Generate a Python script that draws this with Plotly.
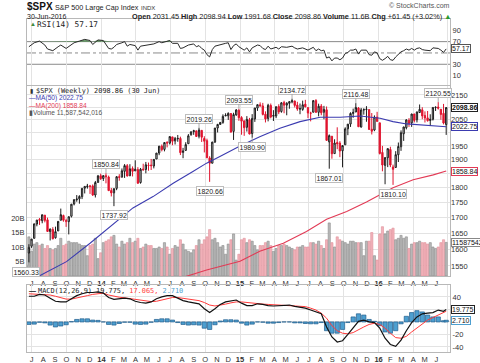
import math
import pandas as pd
import plotly.graph_objects as go

# ---------------- data ----------------
first_week = "2013-06-24"
n_weeks = 158
dates = pd.date_range(first_week, periods=n_weeks, freq="7D")
prior_close = 1592.43

open_ = [
    1588.8, 1609.8, 1634.2, 1679.6, 1694.4, 1690.3, 1708.0, 1693.0, 1655.3, 1662.0,
    1635.9, 1657.4, 1691.7, 1707.1, 1687.3, 1687.2, 1704.8, 1745.2, 1759.4, 1762.2,
    1769.7, 1798.8, 1803.5, 1806.6, 1806.6, 1775.4, 1818.6, 1842.0, 1832.3, 1842.3,
    1837.4, 1791.0, 1782.7, 1798.0, 1838.8, 1836.8, 1857.7, 1877.9, 1841.8, 1867.7,
    1859.2, 1863.9, 1818.2, 1865.8, 1864.2, 1879.5, 1880.0, 1876.7, 1902.0, 1923.9,
    1949.4, 1937.2, 1962.9, 1960.8, 1984.2, 1969.0, 1976.9, 1978.3, 1926.0, 1933.4,
    1958.4, 1992.6, 2004.1, 2007.2, 1986.5, 2009.1, 1978.0, 1970.0, 1905.7, 1886.8,
    1965.0, 2018.2, 2032.0, 2039.7, 2065.1, 2065.8, 2074.8, 2005.0, 2069.3, 2087.6,
    2058.9, 2046.1, 2020.8, 2050.4, 1996.7, 2053.5, 2096.5, 2109.8, 2105.2, 2072.3,
    2055.4, 2107.0, 2064.1, 2064.9, 2102.9, 2083.0, 2119.3, 2108.4, 2115.6, 2121.8,
    2125.3, 2108.6, 2092.3, 2091.3, 2112.5, 2098.6, 2075.6, 2080.0, 2126.8, 2079.6,
    2104.5, 2080.0, 2089.7, 1965.2, 1986.7, 1921.8, 1963.1, 1960.8, 1932.2, 1954.3,
    2015.0, 2033.5, 2075.1, 2080.8, 2096.6, 2022.1, 2089.4, 2090.9, 2090.4, 2013.4,
    2010.3, 2060.6, 2038.2, 1926.1, 1878.9, 1906.3, 1936.9, 1873.3, 1871.4, 1917.6,
    1947.1, 1996.1, 2019.3, 2047.9, 2037.9, 2073.2, 2050.2, 2078.8, 2089.4, 2067.2,
    2057.6, 2047.2, 2052.2, 2100.0, 2100.8, 2091.8, 2075.6, 2031.45,
]
high = [
    1615.9, 1632.1, 1680.2, 1693.1, 1698.8, 1709.7, 1709.2, 1700.2, 1664.9, 1669.5,
    1671.2, 1689.0, 1729.9, 1710.0, 1696.6, 1704.0, 1745.3, 1759.8, 1775.2, 1774.5,
    1798.2, 1804.8, 1813.6, 1810.0, 1811.5, 1823.8, 1844.9, 1849.4, 1843.2, 1850.84,
    1842.4, 1799.3, 1798.0, 1841.0, 1847.5, 1867.9, 1883.6, 1883.8, 1883.1, 1875.2,
    1897.3, 1872.5, 1869.6, 1884.9, 1891.3, 1889.1, 1902.2, 1901.3, 1924.0, 1949.4,
    1955.6, 1963.9, 1968.2, 1985.6, 1984.2, 1983.9, 1991.4, 1985.0, 1942.9, 1964.0,
    1994.8, 2005.0, 2011.2, 2007.2, 2019.26, 2009.1, 1986.7, 1977.4, 1912.1, 1965.3,
    2018.2, 2034.3, 2041.3, 2071.5, 2075.8, 2079.5, 2075.8, 2077.9, 2092.7, 2093.55,
    2064.4, 2046.1, 2064.6, 2057.6, 2072.4, 2097.0, 2110.6, 2119.6, 2117.5, 2083.5,
    2113.9, 2114.9, 2088.2, 2102.6, 2111.9, 2120.9, 2126.0, 2120.3, 2123.9, 2134.72,
    2126.2, 2121.9, 2115.0, 2126.6, 2129.9, 2098.6, 2081.8, 2129.0, 2132.8, 2114.2,
    2112.7, 2105.4, 2103.0, 1993.5, 1986.7, 1975.0, 2020.9, 1968.0, 1951.4, 2020.9,
    2033.5, 2079.7, 2094.3, 2116.48, 2100.7, 2097.1, 2095.6, 2104.3, 2090.4, 2076.7,
    2067.4, 2081.6, 2038.2, 1950.3, 1908.9, 1940.2, 1947.2, 1881.6, 1930.7, 1962.9,
    2009.1, 2022.4, 2052.4, 2056.6, 2074.0, 2073.2, 2083.2, 2111.1, 2099.9, 2083.4,
    2084.9, 2071.9, 2099.3, 2103.5, 2120.55, 2091.8, 2113.3, 2098.94,
]
low = [
    1560.33, 1604.6, 1634.2, 1672.2, 1676.7, 1681.9, 1684.9, 1654.2, 1627.5, 1630.9,
    1633.4, 1657.4, 1691.7, 1687.0, 1670.4, 1646.5, 1700.7, 1740.5, 1752.7, 1746.2,
    1761.6, 1780.7, 1797.2, 1779.1, 1772.3, 1767.0, 1818.6, 1827.7, 1823.7, 1815.5,
    1790.3, 1770.5, 1737.92, 1791.8, 1824.6, 1836.8, 1834.4, 1839.6, 1841.8, 1839.6,
    1859.2, 1814.4, 1814.4, 1859.7, 1850.6, 1859.8, 1862.4, 1868.1, 1902.0, 1916.0,
    1930.0, 1930.0, 1944.7, 1955.6, 1952.9, 1955.5, 1965.8, 1916.4, 1904.8, 1933.4,
    1958.4, 1988.6, 1992.0, 1985.2, 1978.5, 1965.0, 1926.0, 1906.1, 1820.66, 1886.3,
    1961.0, 2001.0, 2030.2, 2034.5, 2064.8, 2049.6, 2002.3, 1972.6, 2066.0, 2046.0,
    1992.4, 1988.1, 2004.5, 1994.0, 1980.90, 2041.9, 2085.4, 2103.8, 2067.3, 2039.7,
    2044.0, 2055.7, 2045.5, 2056.5, 2072.4, 2078.0, 2075.9, 2067.9, 2093.9, 2115.8,
    2099.2, 2085.7, 2072.1, 2085.7, 2099.6, 2056.6, 2044.0, 2080.0, 2077.7, 2063.5,
    2067.9, 2052.1, 1970.9, 1867.01, 1903.1, 1921.8, 1938.0, 1908.8, 1871.9, 1954.3,
    1990.7, 2022.3, 2058.0, 2080.8, 2022.8, 2019.4, 2070.3, 2042.4, 2012.4, 1993.3,
    2005.9, 2043.6, 1918.5, 1857.8, 1812.3, 1872.7, 1872.7, 1810.10, 1871.4, 1891.0,
    1931.8, 1969.0, 2012.8, 2022.5, 2022.5, 2039.7, 2039.7, 2078.5, 2052.3, 2039.5,
    2043.1, 2025.9, 2047.3, 2085.1, 2090.6, 2050.4, 2032.1, 1991.68,
]
close = [
    1606.3, 1631.9, 1680.2, 1692.1, 1691.7, 1709.7, 1691.4, 1655.8, 1663.5, 1633.0,
    1655.2, 1688.0, 1709.9, 1691.8, 1690.5, 1703.2, 1744.5, 1759.8, 1761.6, 1770.6,
    1798.2, 1804.8, 1805.8, 1805.1, 1775.3, 1818.3, 1841.4, 1831.4, 1842.4, 1838.7,
    1790.3, 1782.6, 1797.0, 1838.6, 1836.3, 1859.5, 1878.0, 1841.1, 1866.5, 1857.6,
    1865.1, 1815.7, 1864.9, 1863.4, 1881.1, 1878.5, 1877.9, 1900.5, 1923.6, 1949.4,
    1936.2, 1962.9, 1961.0, 1985.4, 1967.6, 1978.2, 1978.3, 1925.2, 1931.6, 1955.1,
    1988.4, 2003.4, 2007.7, 1985.5, 2010.4, 1982.9, 1967.9, 1906.1, 1886.8, 1964.6,
    2018.1, 2031.9, 2039.8, 2063.5, 2067.6, 2075.4, 2002.3, 2070.7, 2088.8, 2058.2,
    2044.8, 2019.4, 2051.8, 1995.0, 2055.5, 2097.0, 2110.3, 2104.5, 2071.3, 2053.4,
    2108.1, 2061.0, 2067.0, 2102.1, 2081.2, 2117.7, 2108.3, 2116.1, 2122.7, 2126.1,
    2107.4, 2092.8, 2094.1, 2110.0, 2101.5, 2076.8, 2076.6, 2126.6, 2079.7, 2103.8,
    2077.6, 2091.5, 1970.9, 1988.9, 1921.2, 1961.1, 1958.0, 1931.3, 1951.4, 2014.9,
    2033.1, 2075.2, 2079.4, 2099.2, 2023.0, 2089.2, 2090.1, 2091.7, 2012.4, 2005.6,
    2061.0, 2043.9, 1922.0, 1880.3, 1906.9, 1940.2, 1880.1, 1864.8, 1917.8, 1948.1,
    2000.0, 2022.2, 2049.6, 2035.9, 2072.8, 2047.6, 2080.7, 2091.6, 2065.3, 2057.1,
    2046.6, 2052.3, 2099.1, 2099.1, 2096.1, 2071.2, 2037.41, 2098.86,
]
volume_b = [
    13.5, 8.5, 11.0, 11.5, 10.5, 11.0, 9.5, 10.5, 9.5, 9.0,
    9.5, 10.5, 13.0, 10.5, 11.0, 12.0, 11.5, 11.5, 11.5, 11.0,
    10.5, 10.5, 7.0, 10.5, 11.0, 13.0, 6.0, 8.0, 11.5, 12.0,
    12.5, 13.5, 14.0, 11.0, 10.0, 12.0, 11.0, 11.5, 13.0, 11.5,
    12.0, 13.0, 9.5, 10.0, 11.0, 10.5, 10.5, 9.5, 9.5, 10.0,
    9.5, 11.5, 10.0, 7.5, 9.5, 10.5, 10.0, 12.5, 11.0, 9.0,
    8.5, 8.0, 9.0, 10.5, 12.5, 11.0, 12.5, 13.5, 16.0, 12.5,
    13.0, 11.5, 10.0, 10.5, 7.5, 11.0, 12.5, 14.5, 5.5, 7.5,
    12.5, 13.0, 11.5, 12.5, 12.0, 10.5, 9.0, 10.5, 10.5, 11.5,
    12.0, 10.5, 8.5, 9.5, 10.5, 10.5, 11.0, 10.5, 10.0, 9.5,
    9.0, 10.0, 10.0, 10.5, 10.0, 10.0, 11.5, 11.5, 11.0, 12.0,
    10.5, 9.5, 12.5, 18.3, 11.5, 10.0, 13.5, 12.5, 12.0, 11.5,
    11.0, 12.0, 12.0, 11.5, 11.5, 11.5, 7.0, 12.0, 12.0, 15.0,
    7.0, 5.5, 14.5, 17.0, 14.5, 15.5, 16.0, 16.5, 12.5, 13.0,
    14.0, 13.0, 13.5, 9.5, 11.0, 11.5, 11.5, 12.0, 11.5, 11.5,
    11.0, 11.5, 10.0, 9.5, 10.0, 11.5, 12.5, 11.587542016,
]

ma50_dates = ["2013-06-24", "2013-10-01", "2013-12-02", "2014-01-20", "2014-03-25",
              "2014-05-17", "2014-07-09", "2014-08-30", "2014-10-05", "2014-11-09",
              "2015-01-01", "2015-02-22", "2015-04-16", "2015-06-08", "2015-07-31",
              "2015-09-22", "2015-11-13", "2016-01-05", "2016-02-08", "2016-03-15",
              "2016-05-07", "2016-06-27"]
ma50_vals = [1505, 1563, 1619, 1668, 1732, 1770, 1816, 1857, 1887, 1911,
             1950, 1985, 2017, 2043, 2060, 2060, 2065, 2056, 2043, 2034,
             2028, 2022.75]
ma200_dates = ["2014-07-21", "2014-10-05", "2015-01-01", "2015-02-22", "2015-04-25",
               "2015-06-25", "2015-08-17", "2015-10-09", "2015-11-30", "2016-02-08",
               "2016-04-01", "2016-05-24", "2016-06-27"]
ma200_vals = [1512, 1538, 1564, 1594, 1619, 1656, 1695, 1720, 1752, 1800,
              1828, 1845, 1858.84]

rsi_idx = [0, 2, 4, 6, 7, 9, 11, 12, 14, 15,
           17, 19, 21, 23, 24, 26, 28, 30, 31, 32,
           33, 35, 36, 37, 38, 40, 41, 42, 44, 47,
           49, 50, 53, 54, 56, 57, 58, 60, 62, 63,
           64, 65, 66, 67, 68, 69, 70, 72, 74, 75,
           76, 77, 78, 79, 80, 81, 82, 83, 84, 86,
           87, 88, 89, 90, 91, 93, 94, 95, 97, 99,
           100, 101, 103, 105, 107, 108, 109, 110, 111, 112,
           113, 114, 115, 116, 117, 118, 119, 120, 121, 122,
           123, 124, 125, 126, 127, 128, 129, 130, 131, 132,
           133, 134, 135, 136, 137, 138, 139, 140, 141, 142,
           143, 144, 145, 146, 147, 148, 149, 150, 151, 152,
           153, 154, 155, 156, 157]
rsi_vals = [61, 68, 71, 64, 57, 54, 61, 64, 58, 61,
            68, 71, 74, 72, 65, 73, 72, 58, 57, 60,
            65, 68, 70, 62, 65, 63, 55, 62, 64, 66,
            70, 68, 72, 67, 67, 58, 59, 64, 66, 61,
            63, 58, 55, 47, 43, 56, 62, 65, 67, 68,
            56, 63, 66, 61, 58, 55, 59, 52, 59, 64,
            63, 58, 56, 62, 57, 60, 57, 61, 60, 62,
            59, 57, 59, 55, 60, 54, 57, 54, 55, 41,
            43, 36, 41, 41, 38, 41, 49, 51, 55, 55,
            57, 48, 55, 55, 55, 47, 46, 52, 50, 40,
            37, 40, 44, 38, 37, 43, 47, 52, 54, 57,
            55, 58, 55, 58, 59, 56, 55, 54, 54, 59,
            59, 58, 55, 51, 57.17]
rsi_levels = [70, 50, 30]

macd_idx = list(range(0, 157, 2)) + [157]
macd_vals = [41, 41, 44, 43, 38, 33, 32, 32, 37, 42,
             45, 47, 47, 48, 46, 39, 36, 37, 38, 37,
             33, 31, 30, 32, 37, 40, 42, 42, 38, 34,
             32, 31, 29, 21, 15, 21, 28, 32, 34, 35,
             30, 26, 26, 29, 28, 26, 25.5, 26, 27, 27,
             25, 24, 22, 19, 16, 13, -8, -24, -32, -30,
             -20, -9, 1, 3, 0, -1, -10, -26, -36, -39,
             -29, -14, -1, 8, 13, 14, 15, 19, 17, 19.775]
signal_vals = [45, 44.5, 44.5, 44.5, 43, 41, 38.5, 36.5, 36.5, 38,
               40, 42, 44, 45.5, 46, 43, 41, 39.5, 38.5, 37.5,
               36.5, 35, 33.5, 32.5, 33, 35, 37, 39, 39, 38,
               37, 35.5, 34, 31, 27, 25.5, 26.5, 28.5, 30.5, 32,
               32, 31, 29.5, 29, 28.5, 28, 27.5, 27, 27, 27,
               26.5, 25.5, 24.5, 22, 19, 14, 6, -6, -14, -18,
               -19, -17, -12, -8, -4, -2, -4, -10, -18, -25,
               -26, -23, -16, -10, -3, 3, 7, 11, 15, 17.065]

label_high_idx = [29, 64, 79, 99, 123, 154]
label_low_idx = [0, 32, 68, 84, 113, 137]

# ---------------- styling ----------------
W, H = 480, 363
FONT = "Liberation Sans"
MONO = "DejaVu Sans Mono"
GRID = "#e3e3e3"
BORDER = "#b8b8b8"
RED = "#e0142e"
BLK = "#1c1c1c"
BLUE_MA = "#3b3bb0"
RED_MA = "#e23a55"


def ydom(top_px, bot_px):
    return [1 - bot_px / H, 1 - top_px / H]


def py(px):
    return 1 - px / H


fig = go.Figure()

# ---------------- RSI panel ----------------
rsi_x = dates[rsi_idx]
fig.add_trace(go.Scatter(x=rsi_x, y=[70] * len(rsi_idx), mode="lines", line=dict(width=0),
                         xaxis="x", yaxis="y", hoverinfo="skip", showlegend=False))
fig.add_trace(go.Scatter(x=rsi_x, y=[max(v, 70) for v in rsi_vals], mode="lines",
                         line=dict(width=0), fill="tonexty", fillcolor="rgba(80,140,80,0.85)",
                         xaxis="x", yaxis="y", hoverinfo="skip", showlegend=False))
fig.add_trace(go.Scatter(x=rsi_x, y=rsi_vals, mode="lines", line=dict(color="#2a2a2a", width=1),
                         xaxis="x", yaxis="y", hoverinfo="skip", showlegend=False))

# ---------------- price panel ----------------
prev = [prior_close] + close[:-1]
up_i = [i for i in range(n_weeks) if close[i] >= prev[i]]
dn_i = [i for i in range(n_weeks) if close[i] < prev[i]]

vol_fill = ["#b9b9b9" if close[i] >= prev[i] else "#f2b2ba" for i in range(n_weeks)]
vol_line = ["#8c8c8c" if close[i] >= prev[i] else "#e0909b" for i in range(n_weeks)]
fig.add_trace(go.Bar(x=dates, y=volume_b, marker=dict(color=vol_fill, line=dict(color=vol_line, width=0.6)),
                     xaxis="x2", yaxis="y2", hoverinfo="skip", showlegend=False))


def pick(lst, idx):
    return [lst[i] for i in idx]


for idx, col in ((up_i, BLK), (dn_i, RED)):
    fig.add_trace(go.Candlestick(
        x=dates[idx], open=pick(open_, idx), high=pick(high, idx), low=pick(low, idx), close=pick(close, idx),
        increasing=dict(line=dict(color=col, width=1), fillcolor="#e2e2e2"),
        decreasing=dict(line=dict(color=col, width=1), fillcolor=col),
        whiskerwidth=0, xaxis="x2", yaxis="y3", hoverinfo="skip", showlegend=False))

fig.add_trace(go.Scatter(x=ma50_dates, y=ma50_vals, mode="lines", line=dict(color=BLUE_MA, width=1.1),
                         xaxis="x2", yaxis="y3", hoverinfo="skip", showlegend=False))
fig.add_trace(go.Scatter(x=ma200_dates, y=ma200_vals, mode="lines", line=dict(color=RED_MA, width=1.1),
                         xaxis="x2", yaxis="y3", hoverinfo="skip", showlegend=False))

# ---------------- MACD panel ----------------
macd_x = dates[macd_idx]
hist = [m - s for m, s in zip(macd_vals, signal_vals)]
fig.add_trace(go.Bar(x=macd_x, y=hist, width=14 * 86400000 * 0.8,
                     marker=dict(color="#4d9fd0", line=dict(color="#1f5c8c", width=0.7)),
                     xaxis="x3", yaxis="y4", hoverinfo="skip", showlegend=False))
fig.add_trace(go.Scatter(x=macd_x, y=signal_vals, mode="lines", line=dict(color="#ff3b3b", width=1),
                         xaxis="x3", yaxis="y4", hoverinfo="skip", showlegend=False))
fig.add_trace(go.Scatter(x=macd_x, y=macd_vals, mode="lines", line=dict(color="#111111", width=1.2),
                         xaxis="x3", yaxis="y4", hoverinfo="skip", showlegend=False))

# ---------------- axes ----------------
month_starts = pd.date_range("2013-07-01", "2016-06-01", freq="MS")
month_text = [f"<b>{d.year % 100}</b>" if d.month == 1 else "JFMAMJJASOND"[d.month - 1] for d in month_starts]
xrange_ = ["2013-06-19", "2016-07-07"]
xdom = [27 / W, 450 / W]


def xax(anchor, labels):
    return dict(domain=xdom, range=xrange_, type="date", anchor=anchor,
                showgrid=False, zeroline=False,
                minor=dict(showgrid=True, dtick="M3", tick0="2013-07-01", gridcolor=GRID, gridwidth=1, ticks=""),
                showline=True, mirror=True, linecolor=BORDER, linewidth=1,
                rangeslider=dict(visible=False), tickmode="array", tickvals=month_starts,
                ticktext=month_text, ticks="", showticklabels=labels,
                tickfont=dict(size=7.5, color="#333", family=FONT), fixedrange=True)


price_ticks = list(range(1550, 2151, 50))
price_text = ["" if v in (1850, 2000, 2100) else str(v) for v in price_ticks]

fig.update_layout(
    width=W, height=H, autosize=False,
    margin=dict(l=0, r=0, t=0, b=0),
    paper_bgcolor="white", plot_bgcolor="white",
    showlegend=False, bargap=0.18,
    font=dict(family=FONT, size=8, color="#333"),
    xaxis=xax("y", False),
    xaxis2=xax("y2", True),
    xaxis3=xax("y4", True),
    yaxis=dict(domain=ydom(19, 85), anchor="x", side="right", range=[-6.6, 110],
               tickmode="array", tickvals=[10, 30, 50, 70, 90], ticktext=["10", "30", "", "70", "90"],
               showgrid=False, zeroline=False, showline=True, mirror=True, linecolor=BORDER,
               ticks="", tickfont=dict(size=7.5, color="#333"), fixedrange=True),
    yaxis2=dict(domain=ydom(86, 276), anchor="x2", side="left", range=[0, 65.5],
                tickmode="array", tickvals=[5, 10, 15, 20], ticktext=["5B", "10B", "15B", "20B"],
                showgrid=False, zeroline=False, showline=True, mirror=True, linecolor=BORDER,
                ticks="", tickfont=dict(size=7.5, color="#333"), fixedrange=True),
    yaxis3=dict(overlaying="y2", anchor="x2", side="right", type="log",
                range=[math.log10(1520.6), math.log10(2187)],
                tickmode="array", tickvals=price_ticks, ticktext=price_text,
                showgrid=True, gridcolor=GRID, zeroline=False, showline=False,
                ticks="", tickfont=dict(size=7.5, color="#333"), fixedrange=True),
    yaxis4=dict(domain=ydom(285, 352), anchor="x3", side="right", range=[-48, 59],
                tickmode="array", tickvals=[-40, -20, 0, 20, 40], ticktext=["-40", "-20", "", "", "40"],
                showgrid=True, gridcolor=GRID, zeroline=False, showline=True, mirror=True,
                linecolor=BORDER, ticks="", tickfont=dict(size=7.5, color="#333"), fixedrange=True),
)

shapes = []
for lvl in rsi_levels:
    shapes.append(dict(type="line", xref="x domain", yref="y", x0=0, x1=1, y0=lvl, y1=lvl,
                       line=dict(color="#8a8a8a", width=1, dash="dashdot" if lvl == 50 else "solid"),
                       layer="below"))
fig.update_layout(shapes=shapes)

ann = []


def txt(x_px, y_px, text, size=7, color="#222", family=FONT, anchor="left"):
    ann.append(dict(xref="paper", yref="paper", x=x_px / W, y=py(y_px), text=text, showarrow=False,
                    xanchor=anchor, yanchor="middle", font=dict(size=size, color=color, family=family)))


# header
txt(25, 7, "<b>$SPX</b>", size=10, color="#111")
txt(53, 7.5, "S&amp;P 500 Large Cap Index", size=7.2, color="#222")
txt(139, 7.5, "INDX", size=6, color="#333")
txt(25, 16, "30-Jun-2016", size=7, color="#222")
chg = close[-1] - close[-2]
hdr = (f"<b>Open</b> {open_[-1]:.2f} <b>High</b> {high[-1]:.2f} <b>Low</b> {low[-1]:.2f} "
       f"<b>Close</b> {close[-1]:.2f} <b>Volume</b> {volume_b[-1]:.1f}B "
       f"<b>Chg</b> +{chg:.2f} (+{chg / close[-2] * 100:.2f}%) <span style='color:#2a9a2a'>▲</span>")
txt(453, 16, hdr, size=7.3, color="#222", anchor="right")
txt(452, 6, "© StockCharts.com", size=7, color="#555", anchor="right")

# panel legends
txt(28, 24.5, "<span style='color:#3c8a3c'>▲</span>", size=6)
txt(35, 24.5, f"RSI(14) {rsi_vals[-1]:.2f}", size=7.8, color="#222", family=MONO)
txt(28, 90.5, "▮", size=6, color="#333")
txt(34, 90.5, f"$SPX (Weekly) {close[-1]:.2f} (30 Jun)", size=6.9, color="#222", family=MONO)
txt(27, 98, f"<span style='color:{BLUE_MA}'>—MA(50) {ma50_vals[-1]:.2f}</span>", size=6.6)
txt(27, 105.5, f"<span style='color:{RED_MA}'>—MA(200) {ma200_vals[-1]:.2f}</span>", size=6.6)
txt(27, 113, f"▮Volume {int(round(volume_b[-1] * 1e9)):,}", size=6.6, color="#555")
txt(27, 290.5, "<b>—</b>", size=7, color="#111")
txt(36, 290.5, f"MACD(12,26,9) {macd_vals[-1]:.3f}, <span style='color:#ff3b3b'>{signal_vals[-1]:.3f},</span> "
                 f"<span style='color:#4d9fd0'>{macd_vals[-1] - signal_vals[-1]:.3f}</span>",
    size=6.9, color="#222", family=MONO)

# high / low labels
for i in label_high_idx:
    ann.append(dict(xref="x2", yref="y3", x=dates[i], y=math.log10(high[i]), text=f"{high[i]:.2f}",
                    showarrow=True, arrowhead=0, arrowwidth=0.8, arrowcolor="#999", ax=0, ay=-9,
                    font=dict(size=7, color="#222", family=FONT), bgcolor="white",
                    bordercolor="#bdbdbd", borderwidth=1, borderpad=0.5))
for i in label_low_idx:
    ann.append(dict(xref="x2", yref="y3", x=dates[i], y=math.log10(low[i]), text=f"{low[i]:.2f}",
                    showarrow=True, arrowhead=0, arrowwidth=0.8, arrowcolor="#999",
                    ax=-3 if i == 0 else 0, ay=9,
                    font=dict(size=7, color="#222", family=FONT), bgcolor="white",
                    bordercolor="#bdbdbd", borderwidth=1, borderpad=0.5))


def box(yref, yval, text, border):
    ann.append(dict(xref="paper", yref=yref, x=451 / W, y=yval, text=text, showarrow=False,
                    xanchor="left", yanchor="middle", font=dict(size=7, color="#111", family=FONT),
                    bgcolor="white", bordercolor=border, borderwidth=1, borderpad=0))


box("y", rsi_vals[-1], f"{rsi_vals[-1]:.2f}", "#555")
box("y3", math.log10(close[-1]), f"<b>{close[-1]:.2f}</b>", "#222")
box("y3", math.log10(ma50_vals[-1]), f"{ma50_vals[-1]:.2f}", BLUE_MA)
box("y3", math.log10(ma200_vals[-1]), f"{ma200_vals[-1]:.2f}", RED_MA)
box("y2", volume_b[-1], f"{int(round(volume_b[-1] * 1e9))}", "#888")
box("y4", macd_vals[-1], f"{macd_vals[-1]:.3f}", "#222")
box("y4", macd_vals[-1] - signal_vals[-1], f"{macd_vals[-1] - signal_vals[-1]:.3f}", "#4d9fd0")

fig.update_layout(annotations=ann)
fig.write_html("out.html",
               config={"displayModeBar": False, "staticPlot": True},
               post_script="document.body.style.margin='0px';document.body.style.padding='0px';")
